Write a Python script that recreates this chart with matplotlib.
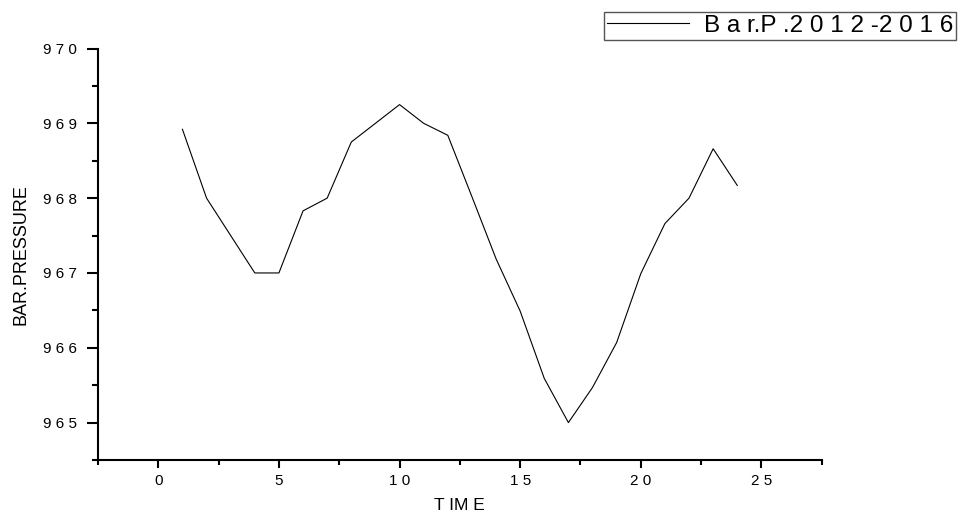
import numpy as np
import matplotlib.pyplot as plt
from matplotlib.ticker import MultipleLocator

plt.rcParams['font.family'] = ['Liberation Sans', 'DejaVu Sans']

# Hourly mean barometric pressure, 2012-2016
time = [1, 2, 3, 4, 5, 6, 7, 8, 9, 10, 11, 12,
        13, 14, 15, 16, 17, 18, 19, 20, 21, 22, 23, 24]
pressure = [968.92, 968.0, 967.5, 967.0, 967.0, 967.83, 968.0, 968.75,
            969.0, 969.25, 969.0, 968.84, 968.02, 967.19, 966.49, 965.59,
            965.0, 965.47, 966.07, 966.99, 967.66, 968.0, 968.66, 968.17]

x_ticks = [0, 5, 10, 15, 20, 25]
x_labels = ['0', '5', '1 0', '1 5', '2 0', '2 5']
y_ticks = [965, 966, 967, 968, 969, 970]
y_labels = ['9 6 5', '9 6 6', '9 6 7', '9 6 8', '9 6 9', '9 7 0']

fig = plt.figure(figsize=(9.58, 5.16), dpi=100)
ax = fig.add_axes([98 / 958, 56 / 516, (821.7 - 98) / 958, (460 - 48.5) / 516])

ax.plot(time, pressure, color='black', linewidth=0.8, label='B a r.P .2 0 1 2 -2 0 1 6')

ax.set_xlim(-2.5, 27.5)
ax.set_ylim(964.5, 970)
ax.set_xticks(x_ticks)
ax.set_xticklabels(x_labels)
ax.set_yticks(y_ticks)
ax.set_yticklabels(y_labels)
ax.xaxis.set_minor_locator(MultipleLocator(2.5))
ax.yaxis.set_minor_locator(MultipleLocator(0.5))

for side in ['top', 'right']:
    ax.spines[side].set_visible(False)
for side in ['left', 'bottom']:
    ax.spines[side].set_linewidth(1.5)

ax.tick_params(axis='x', which='major', direction='out', length=6, width=1.5,
               labelsize=11, pad=4)
ax.tick_params(axis='x', which='minor', direction='out', length=3.5, width=1.5)
ax.tick_params(axis='y', which='major', direction='out', length=8, width=1.5,
               labelsize=11, pad=7)
ax.tick_params(axis='y', which='minor', direction='out', length=4.5, width=1.5)

ax.set_xlabel('T IM E', fontsize=12.5, labelpad=7)
ax.set_ylabel('BAR.PRESSURE', fontsize=13, labelpad=10)

fig.legend(loc='upper right', bbox_to_anchor=(956 / 958, 1 - 12 / 516),
           fontsize=17.5, frameon=True, fancybox=False, edgecolor='#555555',
           framealpha=1, handlelength=3.4, handletextpad=0.6,
           borderpad=0.12, borderaxespad=0)

fig.savefig('out.png', dpi=100)
